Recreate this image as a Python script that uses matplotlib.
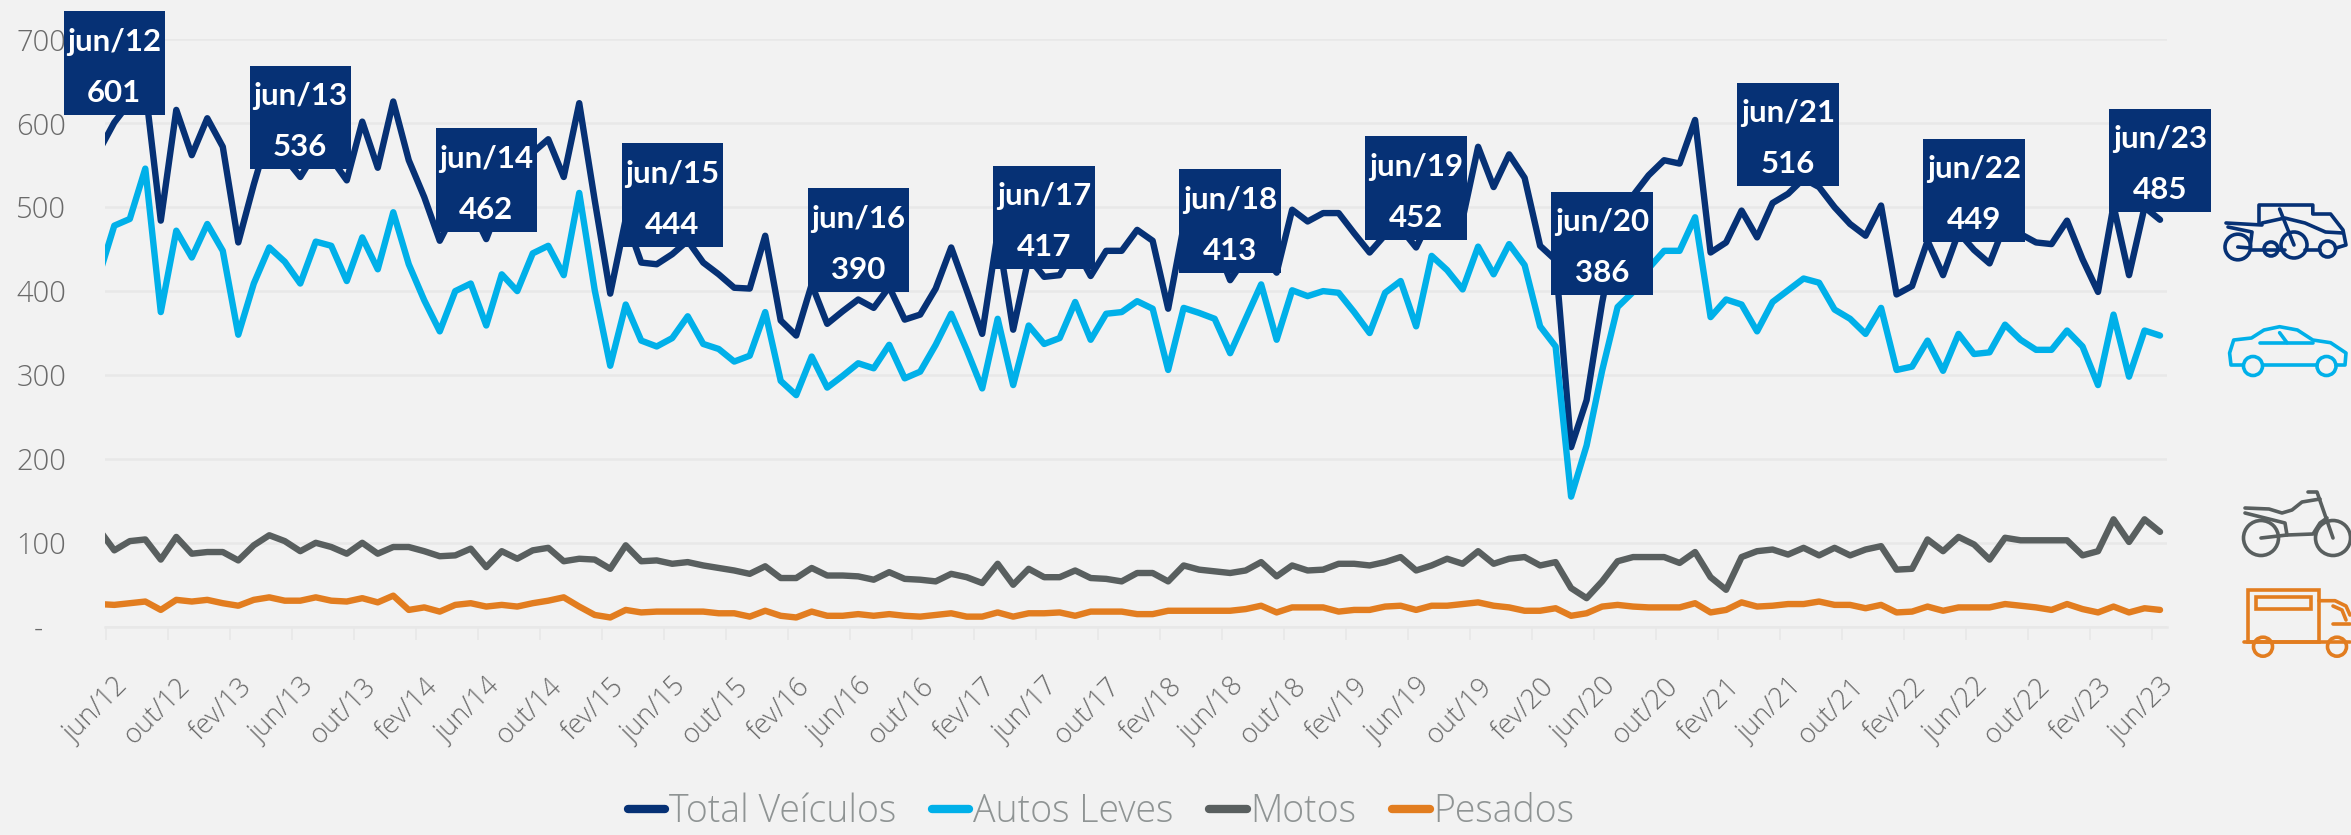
import numpy as np
import matplotlib
matplotlib.use("Agg")
import matplotlib.pyplot as plt
from matplotlib.lines import Line2D
from matplotlib.patches import Circle, Rectangle
from matplotlib.path import Path

# months counted from jun/12; the first point (-1) is cut off by the left edge
months = np.arange(-1, 133)

total = [567,
         601, 625, 642, 484, 616, 562, 606, 572, 458, 527,
         590, 559, 536, 566, 558, 532, 602, 547, 626, 556,
         512, 460, 496, 500, 462, 510, 510, 565, 581, 536,
         624, 508, 397, 486, 434, 432, 444, 460, 434, 420,
         404, 403, 466, 365, 347, 408, 361, 376, 390, 380,
         405, 366, 372, 403, 452, 401, 349, 469, 354, 440,
         417, 419, 452, 418, 448, 448, 473, 460, 379, 477,
         475, 460, 413, 440, 445, 422, 497, 483, 493, 493,
         469, 446, 467, 475, 452, 490, 490, 486, 572, 524,
         563, 535, 454, 437, 214, 270, 386, 480, 514, 538,
         556, 552, 604, 446, 458, 496, 464, 505, 516, 534,
         524, 500, 480, 466, 502, 396, 406, 460, 419, 470,
         449, 433, 480, 468, 458, 456, 484, 438, 399, 502,
         419, 500, 485]
autos = [418,
         478, 486, 546, 375, 472, 440, 480, 448, 348, 409,
         452, 435, 409, 459, 454, 412, 464, 426, 494, 432,
         389, 352, 400, 409, 359, 420, 400, 445, 454, 419,
         517, 401, 311, 384, 341, 334, 344, 370, 337, 331,
         316, 323, 375, 293, 276, 322, 285, 299, 314, 308,
         336, 296, 304, 336, 373, 330, 284, 367, 288, 359,
         337, 344, 387, 342, 373, 375, 388, 379, 306, 380,
         374, 367, 326, 367, 408, 342, 401, 394, 400, 398,
         375, 350, 398, 412, 358, 442, 425, 402, 453, 420,
         456, 431, 358, 334, 155, 216, 305, 381, 399, 427,
         448, 448, 488, 369, 390, 384, 352, 387, 401, 415,
         410, 378, 367, 349, 380, 306, 310, 341, 305, 349,
         325, 327, 360, 342, 330, 330, 353, 334, 288, 372,
         298, 353, 347]
motos = [116,
         91, 102, 104, 80, 107, 87, 89, 89, 79, 97,
         109, 102, 90, 100, 95, 87, 100, 87, 95, 95,
         90, 84, 85, 93, 71, 90, 81, 91, 94, 78,
         81, 80, 69, 97, 78, 79, 75, 77, 73, 70,
         67, 63, 72, 58, 58, 70, 61, 61, 60, 56,
         65, 57, 56, 54, 63, 59, 52, 75, 50, 69,
         59, 59, 67, 58, 57, 54, 64, 64, 54, 73,
         68, 66, 64, 67, 77, 60, 73, 67, 68, 75,
         75, 73, 77, 83, 67, 73, 81, 75, 90, 75,
         81, 83, 73, 77, 46, 34, 54, 78, 83, 83,
         83, 76, 89, 59, 44, 83, 90, 92, 86, 94,
         85, 94, 85, 92, 96, 68, 69, 104, 90, 107,
         98, 80, 106, 103, 103, 103, 103, 85, 90, 128,
         101, 128, 113]
pesados = [27,
           26, 28, 30, 20, 32, 30, 32, 28, 25, 32,
           35, 31, 31, 35, 31, 30, 34, 29, 37, 20,
           23, 18, 26, 28, 24, 26, 24, 28, 31, 35,
           24, 14, 11, 20, 17, 18, 18, 18, 18, 16,
           16, 12, 19, 13, 11, 18, 13, 13, 15, 13,
           15, 13, 12, 14, 16, 12, 12, 17, 12, 16,
           16, 17, 13, 18, 18, 18, 15, 15, 19, 19,
           19, 19, 19, 21, 25, 17, 23, 23, 23, 18,
           20, 20, 24, 25, 20, 25, 25, 27, 29, 25,
           23, 19, 19, 22, 13, 16, 24, 26, 24, 23,
           23, 23, 28, 17, 20, 29, 24, 25, 27, 27,
           30, 26, 26, 22, 26, 17, 18, 24, 19, 23,
           23, 23, 27, 25, 23, 20, 27, 21, 17, 24,
           17, 22, 20]

tick_labels = ["jun/12", "out/12", "fev/13", "jun/13", "out/13", "fev/14", "jun/14",
               "out/14", "fev/15", "jun/15", "out/15", "fev/16", "jun/16", "out/16",
               "fev/17", "jun/17", "out/17", "fev/18", "jun/18", "out/18", "fev/19",
               "jun/19", "out/19", "fev/20", "jun/20", "out/20", "fev/21", "jun/21",
               "out/21", "fev/22", "jun/22", "out/22", "fev/23", "jun/23"]
y_ticks = [0, 100, 200, 300, 400, 500, 600, 700]
y_labels = ["-   ", "100", "200", "300", "400", "500", "600", "700"]

NAVY = "#063175"
SKY = "#00B0E9"
GRAY = "#595F5F"
ORANGE = "#E27D20"
BG = "#F2F2F2"
GRID = "#E8E8E8"
W, H = 2351, 835

plt.rcParams["font.family"] = ["Open Sans", "DejaVu Sans"]

fig = plt.figure(figsize=(W / 100, H / 100), dpi=100, facecolor=BG)
ax = fig.add_axes([105 / W, 1 - 626.7 / H, (2167 - 105) / W, (626.7 - 39.4) / H], facecolor=BG)

for vals, color, name in [(total, NAVY, "Total Veículos"), (autos, SKY, "Autos Leves"),
                          (motos, GRAY, "Motos"), (pesados, ORANGE, "Pesados")]:
    ax.plot(months, vals, color=color, lw=4.6, solid_capstyle="round",
            solid_joinstyle="round", label=name, zorder=3)

ax.set_xlim(-0.6, 132.45)
ax.set_ylim(0, 700)
ax.set_yticks(y_ticks)
ax.set_yticklabels(y_labels, fontsize=21, color="#6A6A6A", fontweight="light")
ax.tick_params(axis="y", length=0, pad=28)
ax.yaxis.grid(True, color=GRID, lw=1.8)
ax.set_axisbelow(True)
for s in ["top", "right", "left"]:
    ax.spines[s].set_visible(False)
ax.spines["bottom"].set_color(GRID)
ax.spines["bottom"].set_linewidth(1.8)

# tick marks sit on the category edges, labels on the points
label_pos = months[1::4]
ax.set_xticks(label_pos)
ax.set_xticklabels(tick_labels, rotation=45, ha="right", va="top", rotation_mode="anchor",
                   fontsize=19.5, color="#6A6A6A", fontweight="light")
ax.tick_params(axis="x", which="major", length=0, pad=33)
ax.set_xticks(label_pos - 0.55, minor=True)
ax.tick_params(axis="x", which="minor", length=9.5, width=1.2, color=GRID)


def label_box(x0, y0, width, height, mutation_size):
    # box a bit wider than the text, more room on top than below like the original
    left, right = x0 - 5 * 0.72, x0 + width + 5 * 0.72
    bottom, top = y0 - 11 * 0.72, y0 + height + 23 * 0.72
    return Path([(left, bottom), (right, bottom), (right, top), (left, top), (left, bottom)],
                closed=True)


# callouts every june
for i in range(1, len(months), 12):
    m = months[i]
    ax.annotate(f"{tick_labels[(m // 4)]}\n{total[i]}", xy=(m, total[i]), xytext=(0, 55),
                textcoords="offset pixels", ha="center", va="center", color="white",
                fontsize=22.5, fontweight="bold", linespacing=2.0, zorder=5,
                family=["Lato", "DejaVu Sans"],
                bbox=dict(boxstyle=label_box, fc=NAVY, ec="none"), annotation_clip=False)

handles = [Line2D([], [], color=c, lw=6, solid_capstyle="round") for c in [NAVY, SKY, GRAY, ORANGE]]
leg = fig.legend(handles, ["Total Veículos", "Autos Leves", "Motos", "Pesados"], ncol=4,
                 loc="center", bbox_to_anchor=(1101 / W, 1 - 812 / H), frameon=False,
                 handlelength=1.0, handletextpad=0.1, columnspacing=0.95,
                 labelcolor="#8F9494", prop=dict(family=["Open Sans", "DejaVu Sans"], size=27, weight="light"))

# icons, drawn on a pixel overlay
ov = fig.add_axes([0, 0, 1, 1], facecolor="none")
ov.set_xlim(0, W)
ov.set_ylim(H, 0)
ov.axis("off")


def stroke(points, color, lw=2.6):
    xs, ys = zip(*points)
    ov.plot(xs, ys, color=color, lw=lw, solid_capstyle="round", solid_joinstyle="round", clip_on=True)


def wheel(x, y, r, color, lw=2.6):
    ov.add_patch(Circle((x, y), r, fc="none", ec=color, lw=lw))


# group icon
wheel(2237.8, 247, 12.8, NAVY)
wheel(2271, 249, 7, NAVY)
wheel(2294, 245, 13, NAVY)
wheel(2327.6, 249, 8, NAVY)
stroke([(2259, 223), (2259, 205), (2312.8, 205), (2312.8, 214), (2330.6, 214), (2343, 230), (2346, 245), (2336, 248)], NAVY)
stroke([(2262, 223), (2284.7, 218), (2305, 223), (2325.5, 232), (2343, 233)], NAVY)
stroke([(2226, 223), (2262, 225)], NAVY)
stroke([(2228, 227), (2252, 232), (2250, 248), (2237.8, 247)], NAVY)
stroke([(2251.5, 250), (2285, 250)], NAVY)
stroke([(2279.6, 209), (2294, 245)], NAVY)
stroke([(2305, 250), (2320, 250)], NAVY)

# car
wheel(2253, 366, 9.5, SKY)
wheel(2326.5, 366, 9.5, SKY)
stroke([(2243, 365), (2231, 365), (2229.6, 353), (2233.7, 340), (2251.5, 338), (2264, 330), (2279.6, 326.7),
        (2297.4, 330), (2312.8, 340), (2330.6, 342.7), (2346, 353), (2345, 365), (2336, 365)], SKY)
stroke([(2263, 365), (2317, 365)], SKY)
stroke([(2260, 342.7), (2313, 342.7)], SKY)
stroke([(2279.6, 332.7), (2287, 342.7)], SKY)

# motorcycle
wheel(2261, 538, 17.5, GRAY)
wheel(2333, 538, 17.5, GRAY)
stroke([(2308, 492), (2317, 492), (2333, 538)], GRAY)
stroke([(2245, 508), (2269, 509), (2282, 513), (2292, 510), (2302, 502), (2320, 499)], GRAY)
stroke([(2245, 513), (2285, 523), (2287, 535), (2261, 538)], GRAY)
stroke([(2287, 535), (2313, 534), (2320, 523), (2327, 518)], GRAY)

# truck
ov.add_patch(Rectangle((2248, 590), 71, 52, fc="none", ec=ORANGE, lw=2.6))
ov.add_patch(Rectangle((2255.6, 597), 55.4, 12, fc="none", ec=ORANGE, lw=2.6))
stroke([(2319, 600.7), (2335, 600.7), (2346, 606), (2350, 615)], ORANGE)
stroke([(2333, 606), (2342, 610), (2346, 620)], ORANGE)
stroke([(2333, 624), (2350, 624)], ORANGE)
stroke([(2244, 642), (2350, 642)], ORANGE)
wheel(2263, 646.7, 9.5, ORANGE)
wheel(2337, 646.7, 9.5, ORANGE)

fig.savefig("out.png", dpi=100, facecolor=BG)
